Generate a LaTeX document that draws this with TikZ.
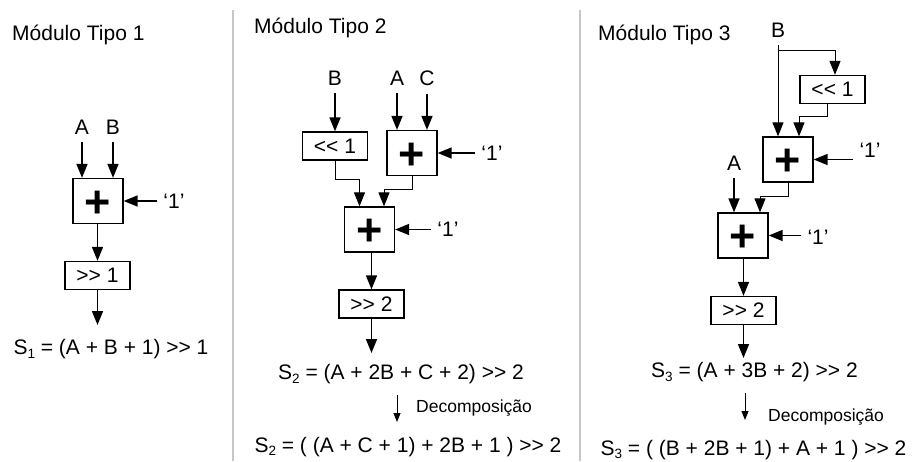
\documentclass[tikz,border=0pt]{standalone}
\usepackage{fontspec}
\setmainfont{Liberation Sans}[Ligatures=TeXOff]
\usetikzlibrary{arrows.meta}
\newcommand\subnum[1]{\raisebox{-0.35ex}{\fontsize{13.5}{13.5}\selectfont #1}}
\tikzset{
  title/.style={anchor=base west, inner sep=0pt},
  eq/.style={anchor=base, inner sep=0pt},
  dec/.style={anchor=west, inner sep=0pt, font=\fontsize{17.5}{20}\selectfont},
  sig/.style={inner xsep=2pt, inner ysep=8pt},
  cst/.style={inner xsep=6pt, inner ysep=0pt},
  blk/.style={draw, line width=1.3pt, inner sep=0pt, minimum width=65pt, minimum height=28pt},
  addblk/.style={draw, line width=1.3pt, inner sep=0pt, minimum width=50pt, minimum height=45pt,
    font=\fontsize{45}{45}\selectfont\bfseries, text height=32pt, text depth=0pt},
  arr/.style={-{Triangle[length=14pt,width=11pt]}, line width=1.6pt},
  wire/.style={-{Triangle[length=14pt,width=11pt]}, line width=1pt},
  decarr/.style={-{Triangle[length=9pt,width=7pt]}, line width=1pt},
  sep/.style={draw=black!22, line width=2pt},
}
\begin{document}
\begin{tikzpicture}[x=1pt,y=-1pt,font=\fontsize{21}{25}\selectfont]
  \useasboundingbox (0,0) rectangle (919,461);
  \draw[sep] (233,10) -- (233,461);
  \draw[sep] (580,10) -- (580,461);

  \node[title] (t1) at (12,40) {Módulo Tipo 1};
  \node[sig] (a1) at (82,127) {A};
  \node[sig] (b1) at (113,127) {B};
  \node[addblk] (add1) at (98,201) {+};
  \node[cst] (one1) at (174,201) {‘1’};
  \node[blk] (shr1) at (97.5,275.5) {>> 1};
  \coordinate (o1) at (97.5,325);
  \node[eq] (eq1) at (111,354.5) {S\subnum{1} = (A + B + 1) >> 1};
  \draw[arr] (a1.south) -- (a1.south |- add1.north);
  \draw[arr] (b1.south) -- (b1.south |- add1.north);
  \draw[arr] (one1.west |- add1) -- (add1.east);
  \draw[arr] (add1.south -| shr1) -- (shr1.north);
  \draw[arr] (shr1.south) -- (o1);

  \node[title] (t2) at (254,33) {Módulo Tipo 2};
  \node[sig] (b2) at (335,78) {B};
  \node[sig] (a2) at (397,78) {A};
  \node[sig] (c2) at (427,78) {C};
  \node[blk] (shl2) at (335,146) {<< 1};
  \node[addblk] (add2a) at (412,153) {+};
  \node[cst] (one2a) at (492,153) {‘1’};
  \node[addblk] (add2b) at (369.5,229.5) {+};
  \node[cst] (one2b) at (448,229) {‘1’};
  \node[blk] (shr2) at (371.5,304) {>> 2};
  \coordinate (o2) at (371.5,353);
  \node[eq] (eq2) at (401,379.5) {S\subnum{2} = (A + 2B + C + 2) >> 2};
  \coordinate (d2a) at (397,395);
  \coordinate (d2b) at (397,422);
  \node[dec] (dec2) at (416,408) {Decomposição};
  \node[eq] (eq2b) at (408,452) {S\subnum{2} = ( (A + C + 1) + 2B + 1 ) >> 2};
  \draw[arr] (b2.south) -- (shl2.north);
  \draw[arr] (a2.south) -- (a2.south |- add2a.north);
  \draw[arr] (c2.south) -- (c2.south |- add2a.north);
  \draw[arr] (one2a.west |- add2a) -- (add2a.east);
  \draw[wire] (shl2.south) -- ++(0,19) -| ([xshift=-10pt]add2b.north);
  \draw[wire] (add2a.south) -- ++(0,13) -| ([xshift=14.5pt]add2b.north);
  \draw[arr] (one2b.west |- add2b) -- (add2b.east);
  \draw[arr] (add2b.south -| shr2) -- (shr2.north);
  \draw[arr] (shr2.south) -- (o2);
  \draw[decarr] (d2a) -- (d2b);

  \node[title] (t3) at (598,40) {Módulo Tipo 3};
  \node[sig] (b3) at (778,30) {B};
  \coordinate (br3) at (778,50);
  \node[blk] (shl3) at (832.5,89.5) {<< 1};
  \node[addblk] (add3a) at (788,159.5) {+};
  \node[cst] (one3a) at (870,150) {‘1’};
  \node[sig] (a3) at (734,163) {A};
  \node[addblk] (add3b) at (743,235.5) {+};
  \node[cst] (one3b) at (818,237) {‘1’};
  \node[blk] (shr3) at (743.5,310.5) {>> 2};
  \coordinate (o3) at (743.5,358);
  \node[eq] (eq3) at (754.5,377.5) {S\subnum{3} = (A + 3B + 2) >> 2};
  \coordinate (d3a) at (745,393);
  \coordinate (d3b) at (745,420);
  \node[dec] (dec3) at (768,417) {Decomposição};
  \node[eq] (eq3b) at (753.5,455) {S\subnum{3} = ( (B + 2B + 1) + A + 1 ) >> 2};
  \draw[wire] (b3.south) -- (b3.south |- add3a.north);
  \draw[wire] (br3) -| ([xshift=2.5pt]shl3.north);
  \draw[wire] ([xshift=-5.5pt]shl3.south) -- ++(0,12) -| ([xshift=11pt]add3a.north);
  \draw[arr] (one3a.west |- add3a) -- (add3a.east);
  \draw[arr] (a3.south) -- (a3.south |- add3b.north);
  \draw[wire] (add3a.south) -- ++(0,14) -| ([xshift=17pt]add3b.north);
  \draw[arr] (one3b.west |- add3b) -- (add3b.east);
  \draw[arr] (add3b.south -| shr3) -- (shr3.north);
  \draw[arr] (shr3.south) -- (o3);
  \draw[decarr] (d3a) -- (d3b);
\end{tikzpicture}
\end{document}
